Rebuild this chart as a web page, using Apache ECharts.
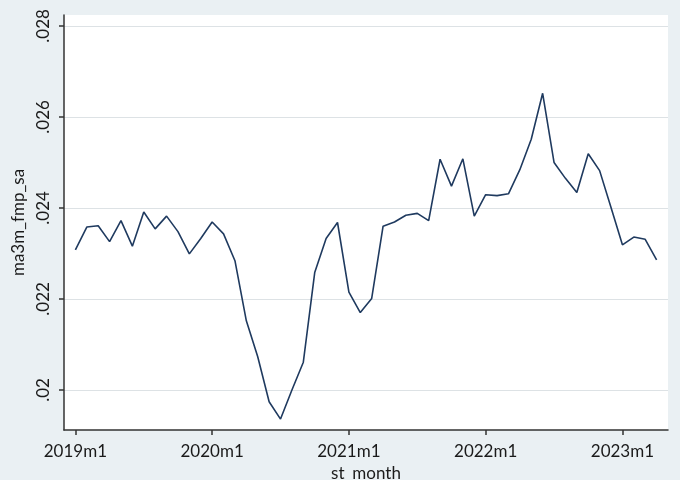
<!DOCTYPE html>
<html>
<head>
<meta charset="utf-8">
<script src="https://cdn.jsdelivr.net/npm/echarts@6/dist/echarts.min.js"></script>
<style>html,body{margin:0;padding:0;background:#eaf0f3;}#c{width:680px;height:480px;}</style>
</head>
<body>
<div id="c"></div>
<script>
// month index 0 = 2019m1 ... 51 = 2023m4
const monthIndex = Array.from({length: 52}, (_, i) => i);
const ma3m_fmp_sa = [
  0.02308, 0.02358, 0.02361, 0.02326, 0.02372, 0.02316, 0.02391, 0.02354, 0.02382, 0.02348, 0.02299, 0.02333,
  0.02369, 0.02343, 0.02284, 0.02152, 0.02073, 0.01974, 0.01936, 0.02000, 0.02061, 0.02258, 0.02333, 0.02368,
  0.02215, 0.02170, 0.02201, 0.02360, 0.02369, 0.02384, 0.02388, 0.02372, 0.02507, 0.02448, 0.02508, 0.02382,
  0.02429, 0.02427, 0.02431, 0.02484, 0.02551, 0.02652, 0.02500, 0.02465, 0.02434, 0.02519, 0.02482, 0.02401,
  0.02319, 0.02336, 0.02331, 0.02286
];
const xTickPos = [0, 12, 24, 36, 48];
const xTickLabels = ['2019m1', '2020m1', '2021m1', '2022m1', '2023m1'];
const yTicks = [0.02, 0.022, 0.024, 0.026, 0.028];
const yGrid = [0.02, 0.022, 0.024, 0.026];

const fmtY = v => String(+v.toFixed(4)).replace(/^0\./, '.');

const chart = echarts.init(document.getElementById('c'));
chart.setOption({
  backgroundColor: '#eaf0f3',
  animation: false,
  textStyle: {fontFamily: 'Lato'},
  grid: {left: 64, right: 12, top: 15, bottom: 50, show: true, backgroundColor: '#ffffff', borderWidth: 0,
    containLabel: false, outerBoundsMode: 'none'},
  xAxis: {
    type: 'value', min: -1, max: 52,
    name: 'st_month', nameLocation: 'middle', nameGap: 27,
    nameTextStyle: {fontSize: 17, color: '#1a1a1a', fontFamily: 'Lato'},
    axisLine: {show: true, onZero: false, lineStyle: {color: '#333', width: 1.5}},
    axisTick: {show: true, customValues: xTickPos, length: 5, lineStyle: {color: '#333', width: 1.5}},
    axisLabel: {customValues: xTickPos, margin: 13, fontSize: 17, color: '#1a1a1a', fontFamily: 'Lato',
      formatter: v => xTickLabels[xTickPos.indexOf(v)] || ''},
    splitLine: {show: false}
  },
  yAxis: {
    type: 'value', min: 0.01912, max: 0.02824,
    name: 'ma3m_fmp_sa', nameLocation: 'middle', nameGap: 33, nameRotate: 90,
    nameTextStyle: {fontSize: 17, color: '#1a1a1a', fontFamily: 'Lato'},
    axisLine: {show: true, onZero: false, lineStyle: {color: '#333', width: 1.5}},
    axisTick: {show: true, customValues: yTicks, length: 5, lineStyle: {color: '#333', width: 1.5}},
    axisLabel: {customValues: yTicks, rotate: 90, margin: 12, fontSize: 17, color: '#1a1a1a', fontFamily: 'Lato',
      formatter: v => fmtY(v)},
    splitLine: {show: true, customValues: yGrid, lineStyle: {color: '#dde2e5', width: 1}}
  },
  series: [{
    type: 'line',
    data: monthIndex.map((m, i) => [m, ma3m_fmp_sa[i]]),
    showSymbol: false,
    lineStyle: {color: '#1f3a5f', width: 1.6},
    z: 3
  }]
});
</script>
</body>
</html>
